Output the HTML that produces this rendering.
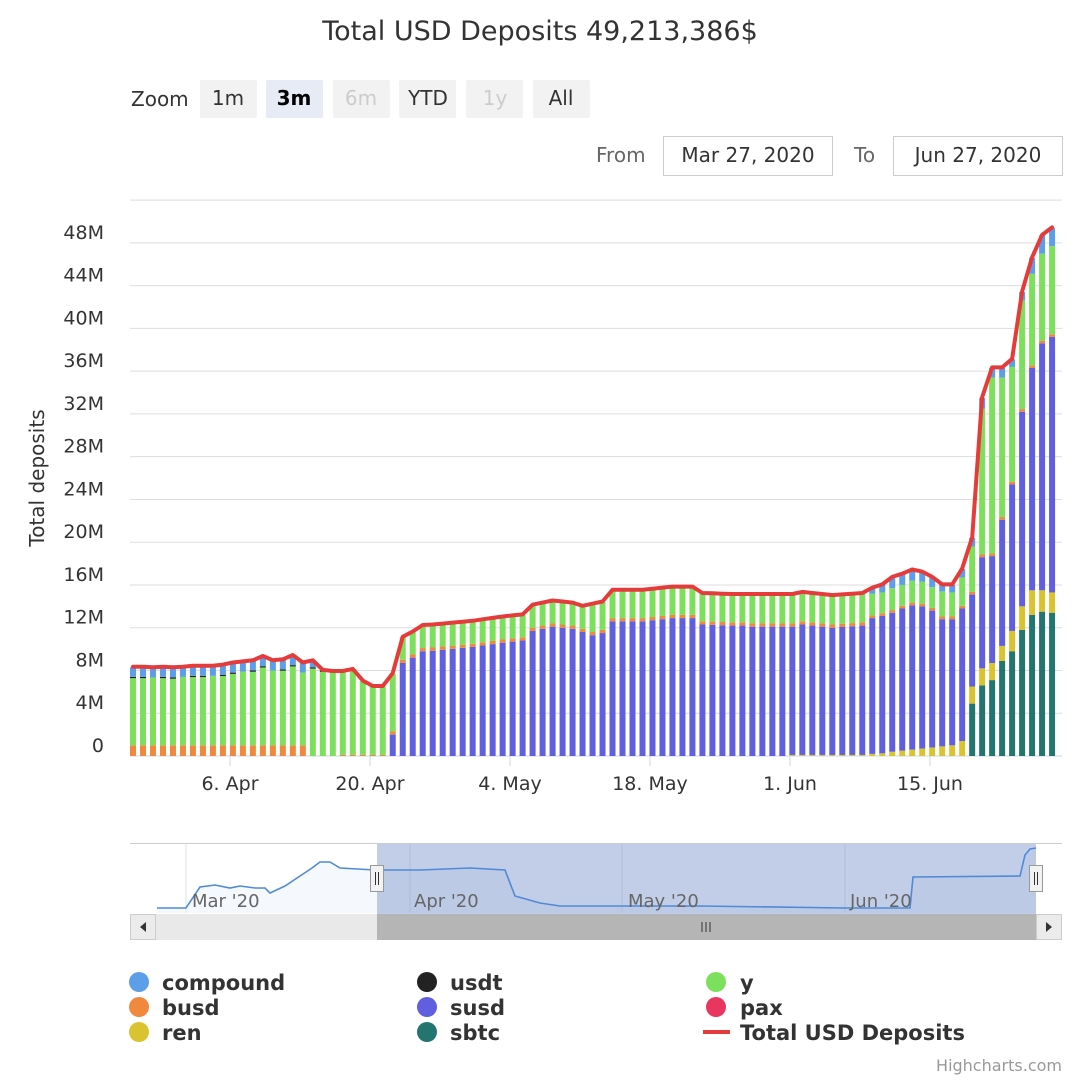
<!DOCTYPE html>
<html><head><meta charset="utf-8"><style>
html,body{margin:0;padding:0;background:#fff;}
body{width:1080px;height:1080px;overflow:hidden;font-family:"DejaVu Sans","Liberation Sans",sans-serif;}
svg text{font-family:"DejaVu Sans","Liberation Sans",sans-serif;}
</style></head><body>
<svg id="s" width="1080" height="1080" xmlns="http://www.w3.org/2000/svg">
<rect width="1080" height="1080" fill="#fff"/>
<text x="540" y="40" text-anchor="middle" font-size="27" fill="#333">Total USD Deposits 49,213,386$</text>
<text x="131" y="106" font-size="20" fill="#333">Zoom</text>
<g font-size="20" text-anchor="middle">
<rect x="200" y="80" width="57" height="38" rx="2" fill="#f2f2f2"/><text x="228" y="105" fill="#333">1m</text>
<rect x="266" y="80" width="57" height="38" rx="2" fill="#e6ebf5"/><text x="294" y="105" fill="#000" font-weight="bold">3m</text>
<rect x="333" y="80" width="57" height="38" rx="2" fill="#f2f2f2"/><text x="361" y="105" fill="#ccc">6m</text>
<rect x="399" y="80" width="57" height="38" rx="2" fill="#f2f2f2"/><text x="428" y="105" fill="#333">YTD</text>
<rect x="466" y="80" width="57" height="38" rx="2" fill="#f2f2f2"/><text x="495" y="105" fill="#ccc">1y</text>
<rect x="533" y="80" width="57" height="38" rx="2" fill="#f2f2f2"/><text x="561" y="105" fill="#333">All</text>
</g>
<text x="596" y="162" font-size="20" fill="#666">From</text>
<rect x="663.5" y="136.5" width="169" height="39" fill="#fff" stroke="#ccc"/>
<text x="748" y="162" font-size="20" fill="#333" text-anchor="middle">Mar 27, 2020</text>
<text x="854" y="162" font-size="20" fill="#666">To</text>
<rect x="893.5" y="136.5" width="169" height="39" fill="#fff" stroke="#ccc"/>
<text x="978" y="162" font-size="20" fill="#333" text-anchor="middle">Jun 27, 2020</text>
<text transform="translate(44,478) rotate(-90)" font-size="20" fill="#333" text-anchor="middle">Total deposits</text>
<g id="grid"></g><g id="bars"></g><g id="line"></g><g id="nav"></g>
<g font-size="21" font-weight="bold" fill="#333">
<circle cx="139" cy="982" r="10" fill="#5d9ee8"/><text x="162" y="990">compound</text>
<circle cx="139" cy="1007" r="10" fill="#f0883e"/><text x="162" y="1015">busd</text>
<circle cx="139" cy="1032" r="10" fill="#d9c42f"/><text x="162" y="1040">ren</text>
<circle cx="427" cy="982" r="10" fill="#222"/><text x="450" y="990">usdt</text>
<circle cx="427" cy="1007" r="10" fill="#5f5fdf"/><text x="450" y="1015">susd</text>
<circle cx="427" cy="1032" r="10" fill="#23756f"/><text x="450" y="1040">sbtc</text>
<circle cx="716" cy="982" r="10" fill="#7de05c"/><text x="740" y="990">y</text>
<circle cx="716" cy="1007" r="10" fill="#e8365e"/><text x="740" y="1015">pax</text>
<line x1="703" y1="1032" x2="730" y2="1032" stroke="#e63b3b" stroke-width="4"/><text x="740" y="1040">Total USD Deposits</text>
</g>
<text x="1062" y="1071" font-size="16" fill="#999" text-anchor="end">Highcharts.com</text>
</svg>
<script>
var NS="http://www.w3.org/2000/svg";
function el(p,t,a,txt){var e=document.createElementNS(NS,t);for(var k in a)e.setAttribute(k,a[k]);if(txt!==undefined)e.textContent=txt;document.getElementById(p).appendChild(e);return e;}
var Y0=756,K=10.69;function Y(v){return Y0-v*K;}
for(var g=0;g<=13;g++){var y=Y(g*4);el("grid","line",{x1:130,x2:1062,y1:y,y2:y,stroke:g==0?"#ccd6eb":"#dedede","stroke-width":1});if(g<13)el("grid","text",{x:104,y:y-4,"font-size":19,fill:"#333","text-anchor":"end"},g==0?"0":(g*4)+"M");}
var xl=[[230,"6. Apr"],[370,"20. Apr"],[510,"4. May"],[650,"18. May"],[790,"1. Jun"],[930,"15. Jun"]];
xl.forEach(function(a){el("grid","line",{x1:a[0],x2:a[0],y1:756,y2:766,stroke:"#ccd6eb"});el("grid","text",{x:a[0],y:790,"font-size":19,fill:"#333","text-anchor":"middle"},a[1]);});
var C={compound:"#5d9ee8",busd:"#f0883e",ren:"#d9c42f",usdt:"#222",susd:"#5f5fdf",sbtc:"#23756f",y:"#7de05c",pax:"#e8365e"};
var T1=[8.3,8.3,8.25,8.3,8.25,8.3,8.4,8.4,8.4,8.5,8.7,8.8,8.9,9.3,8.9,9.0,9.4,8.7,8.9,8.0,7.9,7.9,8.1,7.0,6.5,6.5,7.7,11.1,11.6,12.2];
var key=[[29,12.2],[30,12.25],[34,12.6],[37,13.0],[39,13.2],[40,14.1],[42,14.5],[44,14.3],[45,14.0],[47,14.4],[48,15.5],[51,15.5],[54,15.8],[56,15.8],[57,15.2],[60,15.1],[66,15.1],[67,15.3],[70,15.0],[73,15.2]];
function interp(i){for(var k=0;k<key.length-1;k++){if(i>=key[k][0]&&i<=key[k+1][0]){var t=(i-key[k][0])/(key[k+1][0]-key[k][0]);return key[k][1]+t*(key[k+1][1]-key[k][1]);}}return 15;}
var E={74:[15.7,15.2,12.9,0.2,0],75:[16.0,15.3,13.1,0.25,0],76:[16.7,15.7,13.4,0.4,0],77:[17.0,16.0,13.8,0.5,0],78:[17.4,16.4,14.1,0.6,0],79:[17.2,16.3,14.0,0.7,0],80:[16.7,15.8,13.6,0.8,0],81:[16.0,15.4,12.8,0.9,0],82:[16.0,15.3,12.8,1.0,0],83:[17.5,16.7,13.8,1.4,0],84:[20.4,19.6,15.1,6.5,4.9],85:[33.5,32.5,18.6,8.2,6.6],86:[36.3,35.4,18.7,8.7,7.1],87:[36.3,35.4,22.1,10.3,8.9],88:[37.1,36.4,25.4,11.7,9.8],89:[43.4,42.6,32.2,14.0,11.8],90:[46.6,45.1,36.3,15.5,13.2],91:[48.7,47.0,38.6,15.5,13.5],92:[49.4,47.7,39.2,15.3,13.4]};
var pts=[];
for(var i=0;i<93;i++){
 var segs=[],tot;
 if(i<=26){tot=T1[i];
  if(i<=17){var comp=0.9,us=(i%3!=2)?0.12:0;segs=[["busd",1.0],["y",tot-1.0-comp-us],["usdt",us],["compound",comp]];}
  else if(i==18){segs=[["y",tot-0.6-0.12],["usdt",0.12],["compound",0.6]];}
  else if(i<26){segs=[["busd",i>=21?0.1:0],["y",tot-(i>=21?0.1:0)-(i==19?0.12:0)],["usdt",i==19?0.12:0]];}
  else {segs=[["susd",2.0],["busd",0.3],["y",tot-2.3]];}
 } else if(i<=73){
  tot=i<=29?T1[i]:interp(i);
  var yy=i<=45?2.1:2.6,cp=i>=62?0.1:0,ren=i<66?0:0.1,bu=0.3;
  segs=[["ren",ren],["susd",tot-yy-cp-bu-ren],["busd",bu],["y",yy],["compound",cp]];
 } else {var e=E[i];tot=e[0];
  segs=[["sbtc",e[4]],["ren",e[3]-e[4]],["susd",e[2]-e[3]],["busd",0.25],["y",e[1]-e[2]-0.25],["compound",e[0]-e[1]]];
 }
 var x=133+9.99*i,base=0;
 segs.forEach(function(s){if(s[1]<=0)return;el("bars","rect",{x:(x-3).toFixed(2),y:Y(base+s[1]).toFixed(2),width:6,height:(s[1]*K).toFixed(2),fill:C[s[0]]});base+=s[1];});
 pts.push(x.toFixed(1)+","+Y(tot+0.05).toFixed(1));
}
el("line","polyline",{points:pts.join(" "),fill:"none",stroke:"#e63b3b","stroke-width":4,"stroke-linejoin":"round","stroke-linecap":"round"});
el("nav","line",{x1:130,x2:1062,y1:843.5,y2:843.5,stroke:"#cccccc"});
var np="157,908 186,908 200,887 215,885 230,888 240,886 255,888 265,888 270,893 285,886 300,876 312,868 320,862 330,862 340,868 375,870 420,870 470,868 505,870 515,896 540,903 560,906 700,906 845,908 910,908 913,877 1020,876 1025,855 1030,849 1036,848";
el("nav","polygon",{points:"157,913 "+np+" 1036,913",fill:"rgba(124,181,236,0.08)"});
[186,410,622,845].forEach(function(x){el("nav","line",{x1:x,x2:x,y1:844,y2:913,stroke:"#dde3ea"});});
el("nav","rect",{x:377,y:844,width:659,height:70,fill:"rgba(102,133,194,0.4)"});
el("nav","polyline",{points:np,fill:"none",stroke:"#4f8ad6","stroke-width":1.6});
[["Mar '20",192],["Apr '20",414],["May '20",628],["Jun '20",850]].forEach(function(a){el("nav","text",{x:a[1],y:907,"font-size":18,fill:"#666"},a[0]);});
[377,1036].forEach(function(x){el("nav","rect",{x:x-6.5,y:865.5,width:13,height:26,fill:"#f2f2f2",stroke:"#999"});el("nav","line",{x1:x-1.5,x2:x-1.5,y1:872,y2:885,stroke:"#333"});el("nav","line",{x1:x+1.5,x2:x+1.5,y1:872,y2:885,stroke:"#333"});});
el("nav","rect",{x:130,y:914,width:932,height:26,fill:"#f2f2f2"});
el("nav","rect",{x:156,y:914,width:221,height:26,fill:"#e9e9e9"});
el("nav","rect",{x:377,y:914,width:659,height:26,fill:"#b5b5b5"});
el("nav","rect",{x:130.5,y:914.5,width:25,height:25,fill:"#ebebeb",stroke:"#ccc"});
el("nav","rect",{x:1036.5,y:914.5,width:25,height:25,fill:"#ebebeb",stroke:"#ccc"});
el("nav","polygon",{points:"146,922 146,932 140,927",fill:"#333"});
el("nav","polygon",{points:"1046,922 1046,932 1052,927",fill:"#333"});
[702,706,710].forEach(function(x){el("nav","line",{x1:x,x2:x,y1:922,y2:932,stroke:"#333"});});
</script>
</body></html>
